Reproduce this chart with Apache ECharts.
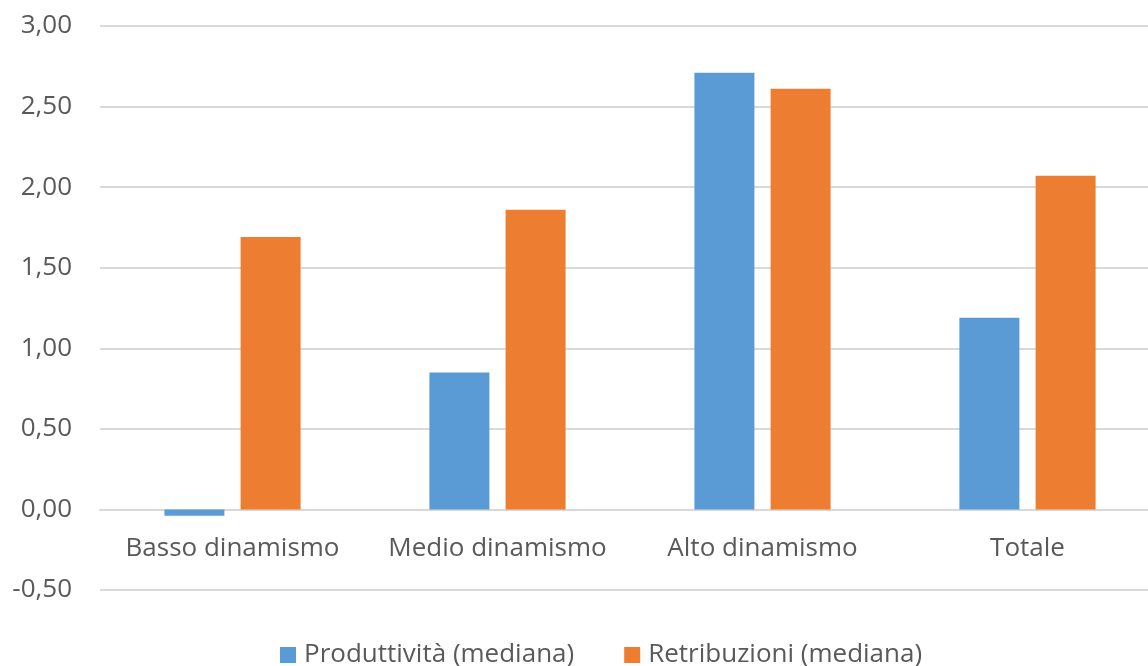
<!DOCTYPE html>
<html>
<head>
<meta charset="utf-8">
<script src="https://cdn.jsdelivr.net/npm/echarts@6/dist/echarts.min.js"></script>
<style>
  html, body { margin: 0; padding: 0; background: #ffffff; overflow: hidden; }
  /* plot area runs slightly past the right edge of the window */
  #chart { width: 1160px; height: 666px; }
</style>
</head>
<body>
<div id="chart"></div>
<script>
// Categories and median values (productivity vs. wages)
const categories = ['Basso dinamismo', 'Medio dinamismo', 'Alto dinamismo', 'Totale'];
const produttivita = [-0.04, 0.85, 2.71, 1.19];
const retribuzioni = [1.69, 1.86, 2.61, 2.07];
const seriesNames = ['Produttività (mediana)', 'Retribuzioni (mediana)'];

// value axis range
const yMin = -0.5;
const yMax = 3;
const yStep = 0.5;

const textColor = '#595959';
const fontFamily = '"Segoe UI", "Open Sans", "Noto Sans", sans-serif';
const fontSize = 26;

const plotTop = 26;
const plotHeight = 564;
// lift the category axis from the bottom of the plot up to the zero line
const zeroOffset = -plotHeight * (0 - yMin) / (yMax - yMin);

const chart = echarts.init(document.getElementById('chart'), null, { renderer: 'canvas' });

chart.setOption({
  animation: false,
  backgroundColor: '#ffffff',
  grid: { left: 100, top: plotTop, right: 0, height: plotHeight, containLabel: false },
  legend: {
    top: 637,
    left: 275,
    itemWidth: 16,
    itemHeight: 16,
    itemGap: 50,
    icon: 'rect',
    textStyle: { color: textColor, fontSize: fontSize, fontFamily: fontFamily, padding: [0, 0, 0, 3] },
    data: seriesNames
  },
  xAxis: {
    type: 'category',
    data: categories,
    position: 'bottom',
    offset: zeroOffset,
    axisLine: { show: true, onZero: false, lineStyle: { color: '#d9d9d9', width: 2 } },
    axisTick: { show: false },
    axisLabel: { color: textColor, fontSize: fontSize, fontFamily: fontFamily, margin: 26, interval: 0 }
  },
  yAxis: {
    type: 'value',
    min: yMin,
    max: yMax,
    interval: yStep,
    axisLine: { show: false },
    axisTick: { show: false },
    splitLine: { lineStyle: { color: '#d9d9d9', width: 2 } },
    axisLabel: {
      color: textColor,
      fontSize: fontSize,
      fontFamily: fontFamily,
      margin: 28,
      formatter: v => v.toFixed(2).replace('.', ',')
    }
  },
  series: [
    {
      name: seriesNames[0],
      type: 'bar',
      data: produttivita,
      barWidth: 60,
      barGap: '27%',
      itemStyle: { color: '#5B9BD5' }
    },
    {
      name: seriesNames[1],
      type: 'bar',
      data: retribuzioni,
      barWidth: 60,
      barGap: '27%',
      itemStyle: { color: '#ED7D31' }
    }
  ]
});
</script>
</body>
</html>
